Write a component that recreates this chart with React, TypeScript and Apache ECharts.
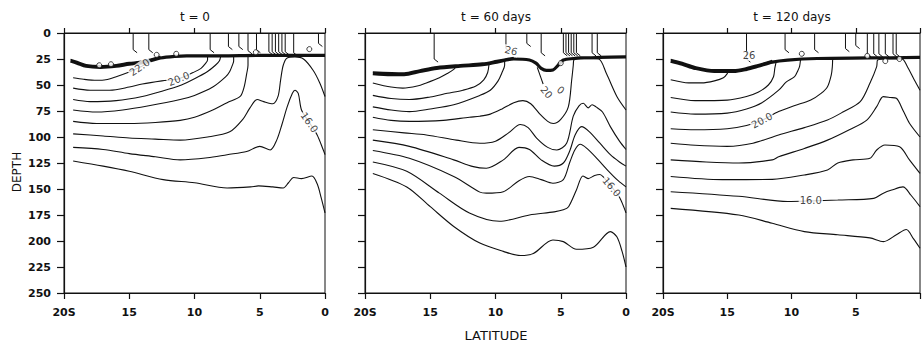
import React, { useEffect, useRef } from 'react';
import * as echarts from 'echarts';

type Pt = [number, number];
type Lbl = { at: Pt; text: string; angle: number };

// ---------- shared ----------
const panelTitles = ['t = 0', 't = 60 days', 't = 120 days'];
const latMin = 0;
const latMax = 20;
const latStep = 5;
const depthMin = 0;
const depthMax = 250;
const depthStep = 25;
const latTickLabel: Record<number, string> = { 20: '20S', 15: '15', 10: '10', 5: '5', 0: '0' };
const yName = 'DEPTH';
const xName = 'LATITUDE';

// ---------- panel 1 : t = 0 ----------
const p1Thermocline: Pt[] = [[19.5, 27], [19, 29], [18.3, 32], [17.2, 33], [16, 32], [15, 30], [14.2, 29], [13.5, 27], [12.6, 24], [11.5, 22.5], [10.6, 22], [8, 22], [5, 21.5], [2, 21.5], [0, 21.5]];
const p1Strand: Pt[] = [[19.5, 25.5], [19, 27.5], [18.3, 30.5], [17.2, 31.5], [16, 30.5], [15, 28.5], [14.2, 27.5], [13.5, 25.5], [12.6, 22.5]];
const p1Contours: Pt[][] = [
  [[19.3, 43], [18.5, 44.5], [17.5, 45.5], [16.8, 45], [16, 42], [15, 37.5], [14.2, 33], [13.6, 29], [13.3, 25]],
  [[19.3, 53], [18, 55], [16.5, 55], [15, 52], [14, 49], [12.5, 46], [11.2, 44], [10.1, 38], [9.5, 34], [9.2, 30], [9.0, 26], [9.0, 23]],
  [[19.3, 64], [18, 66], [16, 65], [14, 61], [12.5, 56], [11, 50], [10, 44], [9, 37], [8.4, 31], [8.1, 27], [8.0, 23]],
  [[19.3, 74], [17.5, 76], [15.5, 74], [13.5, 70], [11.1, 64], [10, 60], [8.6, 52], [7.6, 42], [7.3, 37], [7.1, 31], [7.0, 27], [7.0, 23]],
  [[19.3, 85], [17.5, 87], [15, 87], [13, 86], [11.1, 84], [10, 81], [8.6, 74], [7.5, 67], [6.5, 61], [6.2, 52], [6.0, 39], [5.9, 31], [5.9, 23]],
  [[19.3, 97], [17, 99], [15, 101], [13, 102], [11.1, 103], [9, 100], [7.3, 95], [6.3, 83], [5.75, 72], [5.2, 64], [4.7, 66], [4, 68], [3.6, 61], [3.4, 45], [3.2, 31], [2.9, 24], [2.3, 23], [1.65, 25], [0.9, 36], [0.4, 48], [0, 61]],
  [[19.3, 110], [17, 112], [15, 116], [13, 119], [11.1, 122], [9, 120], [7.5, 117], [6, 114], [5, 109], [4.2, 112.5], [3.7, 103], [3.3, 88], [2.9, 71], [2.5, 58], [2.3, 55], [2.05, 58], [1.8, 74], [1.2, 86], [0.6, 98], [0.13, 112.5], [0, 117]],
  [[19.3, 123], [17, 128], [15, 133], [12.4, 141], [10, 144], [7.5, 149], [5.7, 148], [5.1, 147], [4, 148], [3.2, 149], [2.8, 144], [2.4, 139], [1.8, 140], [1.0, 137.5], [0.6, 145], [0.3, 158], [0, 173]],
];
const p1Verticals = [14.7, 13.5, 8.8, 7.4, 6.6, 5.9, 5.25, 4.3, 4.05, 3.8, 3.55, 3.3, 3.05, 2.4, 0.5];
const p1VerticalBottoms = [16, 16, 16, 13, 13, 17, 16, 18, 18, 18, 18, 18, 18, 19, 10];
const p1Bubbles: Pt[] = [[17.3, 31], [16.4, 30], [12.9, 21], [11.4, 20], [5.3, 18.5], [1.2, 15.5]];
const p1Labels: Lbl[] = [
  { at: [14.2, 33], text: '22.0', angle: 35 },
  { at: [11.2, 44], text: '20.0', angle: 22 },
  { at: [1.2, 86], text: '16.0', angle: -55 },
];
const p1Extra: Pt[][] = [];

// ---------- panel 2 : t = 60 days ----------
const p2Thermocline: Pt[] = [[19.4, 39], [18, 40], [17, 40], [15.8, 37], [14.5, 34], [12.7, 32], [11, 30.5], [9.9, 28], [8.6, 25], [7.4, 26], [6.9, 29], [6.5, 34], [6.1, 36], [5.6, 35.5], [5.2, 31], [4.8, 26], [4, 24.5], [3.5, 24], [2, 23.5], [0, 23]];
const p2Strand: Pt[] = [[19.4, 37.5], [17, 38.5], [15.8, 35.5], [14.5, 32.5], [12.7, 30.5], [11, 29], [9.9, 26.5], [8.6, 23.5]];
const p2Contours: Pt[][] = [
  [[19.4, 48], [18, 52], [17.1, 53], [16, 51], [15.3, 48], [14.3, 43], [13.7, 39], [13.2, 35], [13, 32]],
  [[19.4, 60], [18, 63], [16.6, 64], [15, 61.5], [13.7, 58], [12.5, 55], [11.5, 51], [10.9, 45], [10.6, 38], [10.5, 30]],
  [[19.4, 71], [18, 74], [16.6, 75.6], [15, 73], [13.2, 69], [11.2, 60], [10.4, 55], [9.8, 46], [9.5, 38], [9.3, 31], [9.3, 27]],
  [[19.4, 81], [18, 84], [16.6, 85], [14, 84], [12, 81], [11.2, 80], [10.4, 78], [9.5, 73], [8.6, 67], [7.9, 65], [7.3, 68], [6.6, 78], [6, 85], [5.57, 87], [5, 83], [4.42, 71], [4.16, 45], [4.04, 31], [4.0, 26], [3.2, 24.5], [2.1, 25], [1.5, 39], [0.7, 61], [0, 74]],
  [[19.4, 93], [17, 96], [15.3, 98], [13, 103], [11.2, 106], [10, 104], [9, 96], [8.1, 88], [7.5, 91], [6.85, 101], [6, 110], [5.3, 112.5], [4.55, 106], [4.04, 80], [3.6, 70], [3.27, 67.6], [2.9, 72], [2.6, 69], [2.3, 71], [1.8, 76], [1.2, 90], [0.5, 104], [0, 112]],
  [[19.4, 103], [16.6, 109], [13.2, 122], [11.7, 128.5], [10.7, 130], [9.4, 122], [8.2, 110], [7.4, 112], [6.5, 122], [5.5, 128], [4.8, 125], [4.3, 113], [3.9, 98], [3.4, 90], [2.8, 95], [2.0, 106], [1.2, 117], [0.5, 124], [0, 128]],
  [[19.4, 113], [16.6, 120.5], [13.2, 138], [11.2, 153], [10.7, 154], [9.4, 152.6], [8.2, 142], [7.4, 138], [6.5, 141], [5.6, 144.5], [4.8, 141], [4.3, 124], [3.9, 112], [3.5, 107], [3.0, 111], [2.2, 121], [1.4, 132], [0.6, 142], [0, 148]],
  [[19.4, 124], [16.8, 133], [14.3, 154], [12, 173], [9.7, 181], [7.4, 175], [5.5, 172], [4.8, 170], [4.4, 167], [3.8, 151], [3.3, 137.5], [2.9, 140], [2.4, 137], [2.0, 136], [1.7, 139], [1.1, 148], [0.5, 158], [0, 173]],
  [[19.4, 135], [16.8, 148], [15, 167], [13.2, 186], [11.2, 202], [9.4, 210], [8.1, 214], [7.1, 212], [5.6, 199], [4.8, 200.6], [3.8, 208], [2.5, 206], [1.2, 191], [0.7, 196], [0.3, 210], [0, 225]],
];
const p2Verticals = [14.7, 9.2, 7.6, 6.5, 4.8, 4.6, 4.4, 4.2, 4.0, 3.8, 2.6, 2.2];
const p2VerticalBottoms = [25, 15, 10, 19, 19, 19, 19, 19, 19, 19, 19, 19];
const p2Bubbles: Pt[] = [[5.0, 29]];
const p2Labels: Lbl[] = [
  { at: [8.8, 17], text: '26', angle: -15 },
  { at: [6.1, 57], text: '20', angle: -50 },
  { at: [5.0, 55], text: '0', angle: -40 },
  { at: [1.1, 148], text: '16.0', angle: -50 },
];
const p2Extra: Pt[][] = [[[6.8, 33], [6.55, 42], [6.35, 49]]];

// ---------- panel 3 : t = 120 days ----------
const p3Thermocline: Pt[] = [[19.4, 27], [18.5, 30], [17.5, 34], [16, 37], [14.5, 37], [13.5, 35], [12.6, 32], [11.5, 28], [10.3, 26], [8, 24.5], [4, 24], [0, 23.5]];
const p3Strand: Pt[] = [[19.4, 25.5], [18.5, 28.5], [17.5, 32.5], [16, 35.5], [14.5, 35.5], [13.5, 33.5], [12.6, 30.5], [11.5, 26.5]];
const p3Contours: Pt[][] = [
  [[19.4, 45], [18, 48], [17, 48], [16, 46], [15.3, 43], [15.0, 39], [14.9, 36]],
  [[19.4, 62], [17.5, 65], [15, 64.5], [13.5, 61], [12.6, 57], [11.8, 50], [11.4, 42], [11.3, 34], [11.2, 28]],
  [[19.4, 76], [17.5, 78], [15, 77], [13.5, 73], [12.3, 67], [11, 55], [10.4, 47], [9.76, 42], [9.5, 36], [9.37, 32], [9.3, 26]],
  [[19.4, 92], [17.5, 93], [15, 92], [13.5, 89], [12.3, 84], [11, 75.6], [9.8, 70], [8.5, 64.4], [7.7, 58], [7.2, 51.6], [6.9, 40], [6.82, 32], [6.8, 26]],
  [[19.4, 106], [17.5, 108], [15, 109], [13, 106], [11, 98], [9, 91], [7.2, 83.7], [6, 76], [4.65, 66], [3.9, 48.4], [3.37, 32.4], [3.3, 26], [2.5, 25], [1.4, 25], [1.0, 32], [0.45, 45], [0, 55]],
  [[19.4, 122], [16.65, 124], [14.1, 125], [11.5, 122], [11, 119], [9, 111], [7.2, 103], [5.5, 93], [4.14, 83.7], [3.37, 70.8], [2.86, 61.2], [2.3, 62], [1.84, 62.8], [1.3, 75], [0.82, 86.8], [0, 100]],
  [[19.4, 138], [15.4, 141], [11.5, 140.7], [9, 136.5], [7.2, 131.7], [6.4, 125], [5.2, 122], [3.9, 120.5], [3.37, 112.5], [2.73, 107.7], [1.59, 109.3], [0.82, 122], [0, 135]],
  [[19.4, 152.6], [14.1, 157], [10.3, 162], [8.5, 161.5], [6.4, 160.6], [3.6, 159], [2.85, 154], [2.2, 151], [1.33, 148], [0.7, 156], [0, 167]],
  [[19.4, 168.6], [14.1, 175], [11.5, 183], [9, 191], [6.4, 194], [3.9, 197], [2.85, 200.6], [1.84, 194], [1.07, 189], [0.5, 198], [0, 207]],
];
const p3Verticals = [13.5, 10.5, 8.2, 5.8, 5.0, 4.1, 3.6, 3.2, 2.7, 2.1, 1.85];
const p3VerticalBottoms = [25, 16, 16, 15, 12, 20, 20, 20, 20, 20, 20];
const p3Bubbles: Pt[] = [[9.2, 20], [4.1, 22], [2.7, 27], [1.6, 25]];
const p3Labels: Lbl[] = [
  { at: [13.3, 22], text: '26', angle: 0 },
  { at: [12.3, 84], text: '20.0', angle: 28 },
  { at: [8.5, 161.5], text: '16.0', angle: 0 },
];
const p3Extra: Pt[][] = [];

const panels = [
  { thermo: p1Thermocline, strand: p1Strand, contours: p1Contours, verts: p1Verticals, vb: p1VerticalBottoms, bubbles: p1Bubbles, labels: p1Labels, extra: p1Extra },
  { thermo: p2Thermocline, strand: p2Strand, contours: p2Contours, verts: p2Verticals, vb: p2VerticalBottoms, bubbles: p2Bubbles, labels: p2Labels, extra: p2Extra },
  { thermo: p3Thermocline, strand: p3Strand, contours: p3Contours, verts: p3Verticals, vb: p3VerticalBottoms, bubbles: p3Bubbles, labels: p3Labels, extra: p3Extra },
];

// ---------- layout (pixels) ----------
const gridLefts = [64, 365, 663];
const gridWidths = [261, 261, 260];
const gridTop = 33;
const gridHeight = 260;
const INK = '#111';
const FONT = '"DejaVu Sans", "Liberation Sans", Arial, sans-serif';

export default function App() {
  const ref = useRef<HTMLDivElement>(null);

  useEffect(() => {
    if (!ref.current) return;
    const chart = echarts.init(ref.current, undefined, { renderer: 'svg' });

    const grids: any[] = [];
    const xAxes: any[] = [];
    const yAxes: any[] = [];
    const series: any[] = [];

    panels.forEach((p, g) => {
      grids.push({
        left: gridLefts[g], top: gridTop, width: gridWidths[g], height: gridHeight,
        show: true, borderColor: INK, borderWidth: 1, backgroundColor: 'transparent',
      });
      const tickFont = { fontFamily: FONT, fontWeight: 'bold', fontSize: 11, color: INK };
      xAxes.push({
        type: 'value', gridIndex: g, min: latMin, max: latMax, interval: latStep, inverse: true, position: 'bottom',
        axisLine: { show: true, onZero: false, lineStyle: { color: INK, width: 1.2 } },
        axisTick: { show: true, length: 6, lineStyle: { color: INK, width: 1.2 } },
        axisLabel: {
          show: true, margin: 14, ...tickFont,
          formatter: (v: number) => (g === 2 && v === 0 ? '' : latTickLabel[v] ?? String(v)),
        },
        splitLine: { show: false },
      });
      xAxes.push({
        type: 'value', gridIndex: g, min: latMin, max: latMax, interval: latStep, inverse: true, position: 'top',
        axisLine: { show: true, onZero: false, lineStyle: { color: INK, width: 1.2 } },
        axisTick: { show: true, length: 5, lineStyle: { color: INK, width: 1.2 } },
        axisLabel: { show: false },
        splitLine: { show: false },
      });
      yAxes.push({
        type: 'value', gridIndex: g, min: depthMin, max: depthMax, interval: depthStep, inverse: true,
        axisLine: { show: true, onZero: false, lineStyle: { color: INK, width: 1.2 } },
        axisTick: { show: true, length: 7, lineStyle: { color: INK, width: 1.2 } },
        axisLabel: { show: g === 0, margin: 13, ...tickFont },
        splitLine: { show: false },
      });

      const xi = 2 * g;
      const yi = g;
      const base = { xAxisIndex: xi, yAxisIndex: yi, silent: true, showSymbol: false, animation: false };

      series.push({ ...base, type: 'line', data: p.thermo, smooth: 0.3, lineStyle: { color: INK, width: 3.2 }, z: 4 });
      series.push({ ...base, type: 'line', data: p.strand, smooth: 0.3, lineStyle: { color: INK, width: 1.6 }, z: 4 });
      p.contours.forEach((c) => {
        series.push({ ...base, type: 'line', data: c, smooth: 0.3, lineStyle: { color: INK, width: 1.1 }, z: 3 });
      });
      p.extra.forEach((c) => {
        series.push({ ...base, type: 'line', data: c, smooth: 0.3, lineStyle: { color: INK, width: 1.1 }, z: 3 });
      });
      p.verts.forEach((lat, i) => {
        const b = p.vb[i];
        series.push({
          ...base, type: 'line', smooth: false,
          data: [[lat, 0], [lat, b], [lat - 0.3, b + 3]],
          lineStyle: { color: INK, width: 1 }, z: 3,
        });
      });
      series.push({
        ...base, type: 'scatter', symbol: 'circle', symbolSize: 5, data: p.bubbles,
        itemStyle: { color: '#fff', borderColor: INK, borderWidth: 1 }, z: 5,
      });
      series.push({
        ...base, type: 'scatter', symbol: 'circle', symbolSize: 1,
        itemStyle: { color: 'rgba(0,0,0,0)' }, z: 6,
        data: p.labels.map((l) => ({
          value: l.at,
          label: {
            show: true, position: 'inside', formatter: l.text, rotate: l.angle,
            fontFamily: FONT, fontSize: 10, color: INK, backgroundColor: '#fff', padding: [0, 1],
          },
        })),
      });
    });

    const textEl = (t: string, x: number, y: number, font: string, rot = 0) => ({
      type: 'text', x, y, rotation: rot, silent: true,
      style: {
        text: t, fill: INK, font,
        textAlign: 'center', textVerticalAlign: 'middle', align: 'center', verticalAlign: 'middle',
      },
    });

    chart.setOption({
      animation: false,
      backgroundColor: '#fff',
      grid: grids,
      xAxis: xAxes,
      yAxis: yAxes,
      series,
      graphic: [
        textEl(panelTitles[0], 195, 17, `12px ${FONT}`),
        textEl(panelTitles[1], 496, 17, `12px ${FONT}`),
        textEl(panelTitles[2], 792, 17, `12px ${FONT}`),
        textEl(yName, 17, 172, `12px ${FONT}`, Math.PI / 2),
        textEl(xName, 496, 335, `13px ${FONT}`),
      ],
    });

    return () => chart.dispose();
  }, []);

  return <div ref={ref} style={{ position: 'absolute', left: 0, top: 0, width: 923, height: 342, background: '#fff' }} />;
}
